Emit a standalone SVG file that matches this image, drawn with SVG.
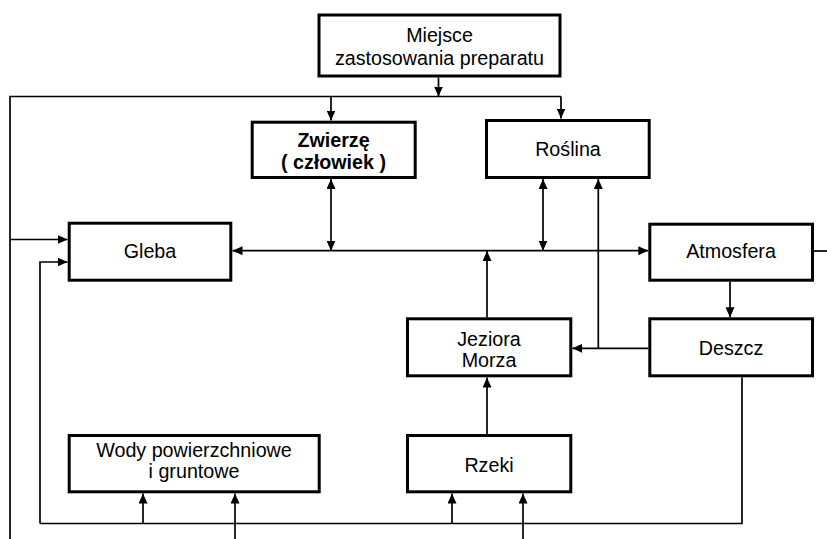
<svg xmlns="http://www.w3.org/2000/svg" width="827" height="539" viewBox="0 0 827 539">
<defs>
<style>
.box{fill:#fff;stroke:#000;stroke-width:3}
.t{font-family:"Liberation Sans",Arial,sans-serif;font-size:19.7px;text-anchor:middle;fill:#000}
.b{font-weight:bold}
.c{fill:none;stroke:#000;stroke-width:1.7}
.a{marker-end:url(#ah)}
.d{marker-start:url(#ah);marker-end:url(#ah)}
</style>
<marker id="ah" markerUnits="userSpaceOnUse" markerWidth="10" markerHeight="9" viewBox="0 0 10 9" refX="10" refY="4.5" orient="auto-start-reverse">
<path d="M0,0 L10,4.5 L0,9 Z" fill="#000"/>
</marker>
</defs>
<rect width="827" height="539" fill="#fff"/>
<g id="connectors">
<path class="c a" d="M438.5,77.5 V96.5"/>
<path class="c" d="M10,539 V96.5 H561"/>
<path class="c a" d="M561,96.5 V118.5"/>
<path class="c a" d="M331,96.5 V120.5"/>
<path class="c a" d="M10,239.5 H67.5"/>
<path class="c a" d="M40,523.5 V262 H67.5"/>
<path class="c" d="M40,523.5 H742 V377.5"/>
<path class="c a" d="M143,523.5 V493.5"/>
<path class="c a" d="M235,539 V493.5"/>
<path class="c a" d="M452,523.5 V493.5"/>
<path class="c a" d="M523,539 V493.5"/>
<path class="c a" d="M487,434 V377.5"/>
<path class="c a" d="M487,317.5 V251"/>
<path class="c d" d="M232.5,250.7 H648.3"/>
<path class="c d" d="M331,179 V250.7"/>
<path class="c d" d="M543,179 V250.7"/>
<path class="c a" d="M648.3,348.3 H572.3"/>
<path class="c a" d="M598.3,348.3 V179"/>
<path class="c a" d="M730,281.7 V317.3"/>
<path class="c" d="M814,251 H827"/>
</g>
<g id="miejsce"><rect class="box" x="319" y="15" width="241" height="61"/><text class="t" x="439.5" y="42">Miejsce</text><text class="t" x="439.5" y="65">zastosowania preparatu</text></g>
<g id="zwierze"><rect class="box" x="252.2" y="122.2" width="163" height="55.3"/><text class="t b" x="333.5" y="146.5">Zwierzę</text><text class="t b" x="333.5" y="168.5">( człowiek )</text></g>
<g id="roslina"><rect class="box" x="486.5" y="120.5" width="162.7" height="57"/><text class="t" x="568" y="156">Roślina</text></g>
<g id="gleba"><rect class="box" x="69.2" y="223.2" width="161.6" height="57"/><text class="t" x="150" y="258">Gleba</text></g>
<g id="atmosfera"><rect class="box" x="649.8" y="224.2" width="162.7" height="56"/><text class="t" x="731" y="258">Atmosfera</text></g>
<g id="jeziora"><rect class="box" x="407.5" y="318.8" width="163.3" height="57"/><text class="t" x="489" y="346">Jeziora</text><text class="t" x="489" y="367">Morza</text></g>
<g id="deszcz"><rect class="box" x="649.8" y="318.8" width="162.7" height="57"/><text class="t" x="731" y="355">Deszcz</text></g>
<g id="wody"><rect class="box" x="69.2" y="435.5" width="250" height="56.3"/><text class="t" x="194" y="456.5">Wody powierzchniowe</text><text class="t" x="194" y="478">i gruntowe</text></g>
<g id="rzeki"><rect class="box" x="407.5" y="435.5" width="163.3" height="56.3"/><text class="t" x="489" y="471.5">Rzeki</text></g>
</svg>
